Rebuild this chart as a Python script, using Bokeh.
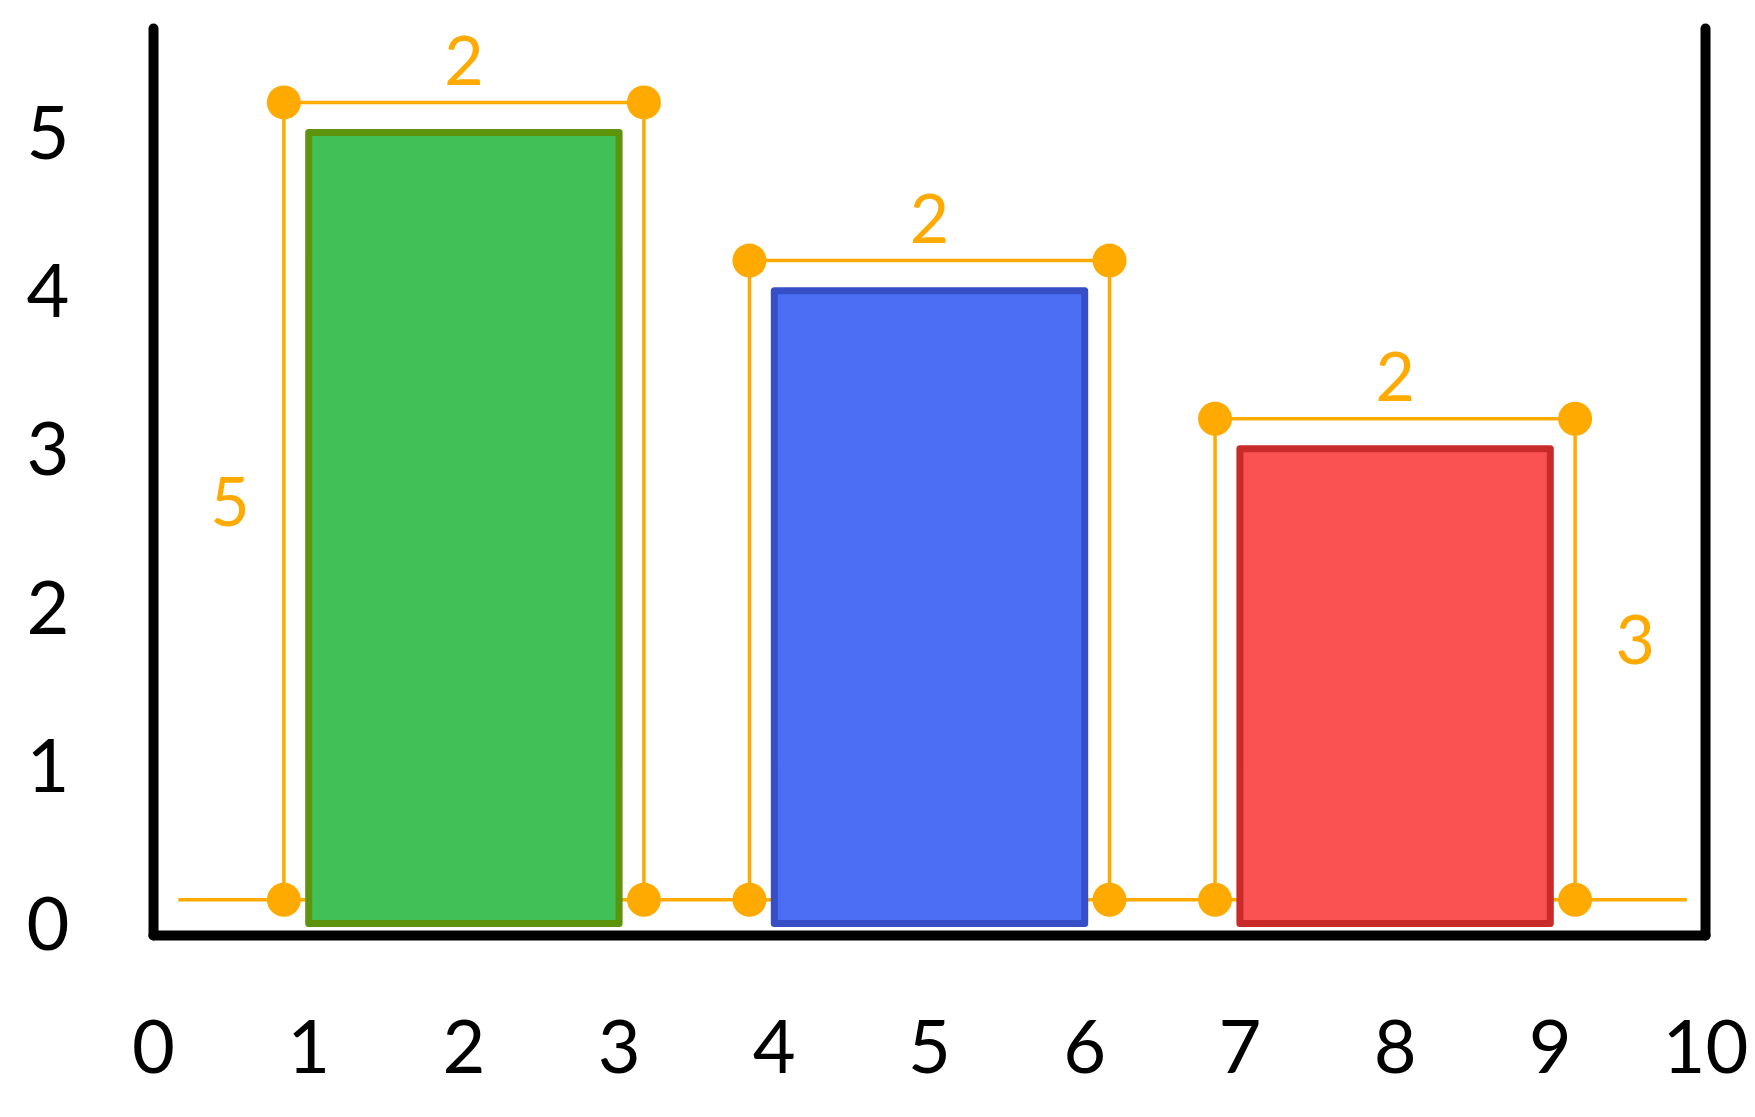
from bokeh.plotting import figure
from bokeh.models import ColumnDataSource, FixedTicker, LinearAxis, Range1d
from bokeh.embed import file_html
from bokeh.resources import INLINE
from bokeh.core.properties import value

# ---- data ----
bar_left = [1, 4, 7]
bar_right = [3, 6, 9]
bar_height = [5, 4, 3]
bar_fill = ["#40C057", "#4C6EF5", "#FA5252"]
bar_line = ["#5C940D", "#364FC7", "#C92A2A"]
width_labels = ["2", "2", "2"]
height_label_bars = [0, 2]          # which bars carry a height label
height_label_side = [-1, 1]         # -1 left, +1 right
height_labels = ["5", "3"]
x_ticks = list(range(0, 11))
y_ticks = list(range(0, 6))

# ---- styles ----
ORANGE = "#FFAA00"
FONT = "Lato"
PAD_X = 0.16      # dimension offset outside bars (data units)
PAD_TOP = 0.19
BASE_Y = 0.15

X0, X1 = 0, 10
Y0, Y1 = -0.076, 5.657

p = figure(width=1755, height=1117, x_range=Range1d(X0, X1), y_range=Range1d(Y0, Y1),
           output_backend="svg", toolbar_location=None,
           min_border_left=153, min_border_right=50, min_border_top=28, min_border_bottom=182)
p.outline_line_color = None
p.xgrid.visible = False
p.ygrid.visible = False
p.background_fill_color = "white"
p.border_fill_color = "white"

for ax, ticks in ((p.xaxis[0], x_ticks), (p.yaxis[0], y_ticks)):
    ax.ticker = FixedTicker(ticks=ticks)
    ax.axis_line_width = 10
    ax.axis_line_color = "black"
    ax.axis_line_cap = "round"
    ax.major_tick_line_color = None
    ax.minor_tick_line_color = None
    ax.major_tick_out = 0
    ax.major_tick_in = 0
    ax.major_label_text_font = FONT
    ax.major_label_text_font_size = "74px"
    ax.major_label_text_color = "black"
p.xaxis[0].major_label_standoff = 84
p.yaxis[0].major_label_standoff = 84

right = LinearAxis(ticker=FixedTicker(ticks=[]), axis_line_width=10, axis_line_color="black",
                   axis_line_cap="round", major_tick_line_color=None, minor_tick_line_color=None,
                   major_label_text_font_size="0px")
p.add_layout(right, "right")

# derived dimension geometry
dim_l = [l - PAD_X for l in bar_left]
dim_r = [r + PAD_X for r in bar_right]
dim_t = [h + PAD_TOP for h in bar_height]
n = len(bar_left)

# baseline dimension line (behind bars)
p.line([X0 + PAD_X, X1 - 0.12], [BASE_Y, BASE_Y], line_color=ORANGE, line_width=3.5)

# bars
bars = ColumnDataSource(dict(left=bar_left, right=bar_right, top=bar_height,
                             fill=bar_fill, line=bar_line))
p.quad(left="left", right="right", bottom=0, top="top", source=bars,
       fill_color="fill", line_color="line", line_width=7, line_join="round")

# vertical dimension lines
vx = dim_l + dim_r
vy1 = dim_t + dim_t
p.segment(x0=vx, y0=[BASE_Y] * (2 * n), x1=vx, y1=vy1, line_color=ORANGE, line_width=3.5)
# top dimension lines
p.segment(x0=dim_l, y0=dim_t, x1=dim_r, y1=dim_t, line_color=ORANGE, line_width=3.5)

# dots
dx = dim_l + dim_r + dim_l + dim_r
dy = [BASE_Y] * (2 * n) + dim_t + dim_t
p.scatter(dx, dy, size=34, fill_color=ORANGE, line_color=None)

# width labels
wx = [(a + b) / 2 for a, b in zip(dim_l, dim_r)]
p.text(wx, dim_t, text=width_labels, text_color=ORANGE, text_font=value(FONT),
       text_font_size="68px", text_align="center", text_baseline="middle", y_offset=-42)

# height labels
hx = [dim_l[i] if s < 0 else dim_r[i] for i, s in zip(height_label_bars, height_label_side)]
hy = [(BASE_Y + dim_t[i]) / 2 for i in height_label_bars]
hoff = [-54 if s < 0 else 60 for s in height_label_side]
hyoff = [0 if s < 0 else -20 for s in height_label_side]
hs = ColumnDataSource(dict(x=hx, y=hy, t=height_labels, off=hoff, yoff=hyoff))
p.text("x", "y", text="t", source=hs, text_color=ORANGE, text_font=value(FONT),
       text_font_size="68px", text_align="center", text_baseline="middle",
       x_offset="off", y_offset="yoff")

open("out.html", "w").write(file_html(p, INLINE))
